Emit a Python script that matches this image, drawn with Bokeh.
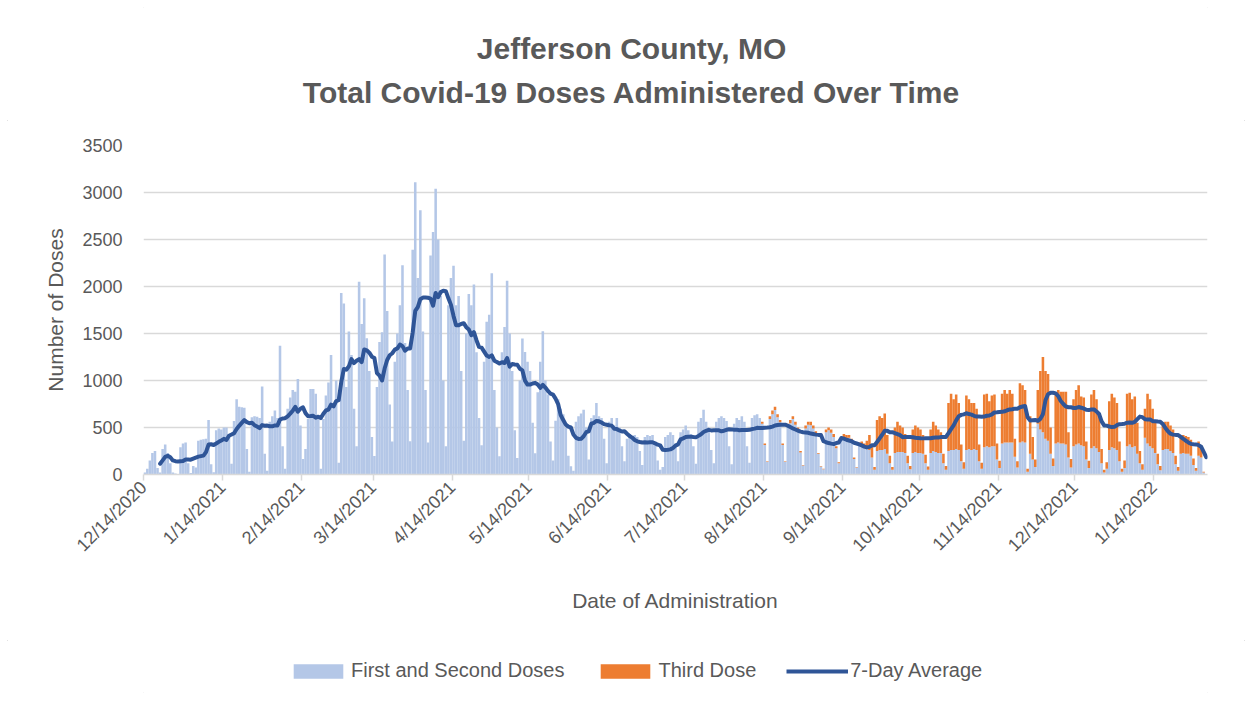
import numpy as np
import pandas as pd
from bokeh.plotting import figure
from bokeh.layouts import column
from bokeh.models import (Range1d, FixedTicker, Legend, LegendItem, Label,
                          ColumnDataSource)
from bokeh.embed import file_html
from bokeh.resources import INLINE

# Daily doses from Mon 12/14/2020, one row per week (Mon..Sun)
first_second_doses = [
    20, 60, 150, 230, 250, 70, 20,
    270, 320, 230, 120, 20, 10, 0,
    290, 330, 340, 120, 15, 90, 75,
    360, 370, 375, 380, 580, 110, 25,
    470, 490, 480, 500, 500, 420, 115,
    570, 800, 720, 715, 710, 270, 30,
    610, 620, 615, 600, 935, 220, 40,
    560, 620, 680, 600, 1370, 300, 60,
    700, 820, 900, 880, 1016, 520, 164,
    270, 590, 910, 910, 860, 600, 60,
    590, 840, 980, 1270, 730, 1000, 125,
    1930, 1820, 930, 1520, 1270, 700, 300,
    2050, 1600, 1875, 1450, 1100, 400, 196,
    930, 1410, 1514, 2340, 1740, 746, 350,
    1200, 1500, 1800, 2225, 1400, 900, 355,
    2390, 3110, 2090, 2810, 1520, 900, 340,
    2330, 2580, 3040, 2500, 1900, 1000, 300,
    1800, 2090, 2220, 1800, 1900, 1100, 360,
    1500, 1920, 1800, 2020, 1300, 600, 310,
    1200, 1625, 1700, 2140, 900, 500, 195,
    1300, 1570, 2060, 1500, 1100, 470, 176,
    1000, 1446, 1303, 1200, 1100, 550, 226,
    875, 1200, 1525, 1000, 850, 350, 150,
    571, 800, 700, 640, 500, 200, 89,
    40, 560, 620, 650, 690, 500, 160,
    600, 630, 760, 620, 600, 380, 120,
    560, 600, 520, 600, 500, 300, 140,
    380, 430, 400, 420, 400, 250, 100,
    400, 420, 410, 420, 320, 150, 50,
    80, 400, 420, 450, 420, 330, 140,
    450, 480, 520, 470, 430, 300, 115,
    560, 600, 690, 560, 500, 260, 120,
    560, 600, 620, 600, 570, 300, 110,
    540, 600, 580, 620, 560, 300, 125,
    600, 630, 640, 600, 540, 315, 135,
    590, 640, 685, 610, 555, 315, 135,
    510, 545, 590, 530, 475, 235, 95,
    490, 530, 525, 490, 435, 220, 85,
    55, 450, 470, 445, 400, 280, 120,
    370, 400, 385, 390, 350, 165, 75,
    310, 315, 290, 300, 260, 180, 50,
    250, 260, 260, 270, 220, 120, 50,
    230, 240, 240, 240, 230, 120, 55,
    230, 240, 230, 230, 220, 120, 50,
    230, 250, 240, 230, 230, 120, 50,
    250, 260, 260, 270, 260, 140, 60,
    260, 270, 260, 270, 260, 140, 60,
    290, 300, 290, 300, 300, 160, 70,
    330, 340, 340, 340, 340, 190, 75,
    340, 350, 340, 30, 220, 160, 80,
    540, 480, 450, 380, 360, 220, 90,
    330, 340, 330, 330, 320, 180, 75,
    300, 320, 330, 310, 300, 160, 70,
    280, 300, 280, 240, 120, 20, 60,
    260, 290, 280, 260, 140, 30, 70,
    300, 320, 290, 300, 220, 120, 50,
    390, 330, 300, 280, 230, 110, 45,
    260, 270, 270, 250, 230, 110, 40,
    220, 230, 220, 220, 200, 100, 40,
    200, 180, 20, 0,
]

# No third doses before mid-August 2021 (first 34 weeks)
third_dose = [0] * 238 + [
    0, 0, 0, 0, 20, 15, 5,
    30, 40, 35, 30, 25, 15, 5,
    30, 35, 30, 30, 25, 15, 5,
    30, 30, 35, 30, 25, 10, 5,
    5, 30, 30, 35, 30, 20, 10,
    30, 30, 35, 30, 30, 15, 5,
    30, 35, 40, 60, 160, 120, 30,
    330, 360, 340, 380, 200, 80, 30,
    270, 320, 280, 260, 200, 80, 35,
    250, 280, 270, 250, 200, 90, 35,
    250, 310, 280, 250, 220, 100, 40,
    510, 600, 540, 580, 500, 180, 70,
    580, 530, 500, 490, 440, 180, 65,
    560, 560, 490, 540, 550, 170, 75,
    530, 560, 520, 560, 520, 190, 65,
    630, 600, 560, 30, 400, 240, 80,
    360, 620, 800, 720, 710, 280, 80,
    520, 560, 550, 550, 560, 270, 90,
    500, 580, 620, 520, 520, 190, 75,
    570, 600, 520, 400, 150, 30, 70,
    520, 570, 540, 500, 210, 30, 80,
    560, 550, 510, 530, 330, 130, 60,
    310, 530, 500, 420, 320, 110, 45,
    280, 290, 290, 270, 250, 90, 40,
    180, 190, 190, 180, 170, 70, 30,
    150, 120, 10, 0,
]

tick_days = [0, 31, 62, 90, 121, 151, 182, 212, 243, 274, 304, 335, 365, 396]
tick_labels = ["12/14/2020", "1/14/2021", "2/14/2021", "3/14/2021", "4/14/2021",
               "5/14/2021", "6/14/2021", "7/14/2021", "8/14/2021", "9/14/2021",
               "10/14/2021", "11/14/2021", "12/14/2021", "1/14/2022"]
y_ticks = [0, 500, 1000, 1500, 2000, 2500, 3000, 3500]
title_lines = ["Jefferson County, MO", "Total Covid-19 Doses Administered Over Time"]
series_names = ["First and Second Doses", "Third Dose", "7-Day Average"]

n = min(len(first_second_doses), len(third_dose))
fs = np.array(first_second_doses[:n], dtype=float)
td = np.array(third_dose[:n], dtype=float)
days = np.arange(n) + 0.5
avg7 = pd.Series(fs + td).rolling(7).mean().to_numpy()

bar_src = ColumnDataSource(dict(x=days, fs=fs, top=fs + td))
line_src = ColumnDataSource(dict(x=days[6:], y=avg7[6:]))

FONT = "Liberation Sans"
GREY = "#595959"
GRID = "#D9D9D9"
BLUE_BAR = "#B4C7E7"
ORANGE = "#ED7D31"
LINE = "#2F5597"
W = 1252
FRAME_L, FRAME_R = 143, 1207   # page x of the plotting area (frames are aligned)


def blank_fig(height):
    f = figure(width=W, height=height, output_backend="svg", toolbar_location=None,
               x_range=Range1d(FRAME_L, FRAME_R), y_range=Range1d(0, height),
               x_axis_type=None, y_axis_type=None, min_border=0)
    f.grid.visible = False
    f.outline_line_color = None
    f.background_fill_color = "white"
    f.border_fill_color = "white"
    return f


# ---- title block (page y 0..120)
head = blank_fig(120)
for txt, y in zip(title_lines, [72, 28]):
    head.add_layout(Label(x=631, y=y, text=txt, text_align="center",
                          text_baseline="alphabetic", text_font=FONT,
                          text_font_size="30px", text_font_style="bold",
                          text_color=GREY))

# ---- main chart (page y 120..640)
fig = figure(width=W, height=520, output_backend="svg", toolbar_location=None,
             x_range=Range1d(0, 417), y_range=Range1d(0, 3500),
             min_border_left=FRAME_L, min_border_right=W - FRAME_R,
             min_border_top=25, min_border_bottom=166)
fig.outline_line_color = None
fig.background_fill_color = "white"
fig.border_fill_color = "white"

fig.vbar(x="x", top="fs", width=1.0, source=bar_src,
         fill_color=BLUE_BAR, line_color=None)
fig.vbar(x="x", bottom="fs", top="top", width=1.0, source=bar_src,
         fill_color=ORANGE, line_color=None)
fig.line(x="x", y="y", source=line_src, line_color=LINE,
         line_width=4, line_join="round", line_cap="round")

xax = fig.xaxis[0]
yax = fig.yaxis[0]
xax.ticker = FixedTicker(ticks=tick_days)
xax.major_label_overrides = {d: lab for d, lab in zip(tick_days, tick_labels)}
xax.major_label_orientation = np.pi / 4
xax.major_tick_out = 6
xax.major_tick_in = 0
xax.major_tick_line_color = GRID
xax.major_tick_line_width = 1.5
xax.minor_tick_line_color = None
xax.axis_line_color = GRID
xax.axis_line_width = 1.5
xax.major_label_standoff = 4
xax.axis_label = "Date of Administration"
xax.axis_label_standoff = 24

yax.ticker = FixedTicker(ticks=y_ticks)
yax.axis_line_color = None
yax.major_tick_line_color = None
yax.minor_tick_line_color = None
yax.major_tick_out = 0
yax.major_tick_in = 0
yax.major_label_standoff = 21
yax.axis_label = "Number of Doses"
yax.axis_label_standoff = 12

for ax in (xax, yax):
    ax.major_label_text_font = FONT
    ax.major_label_text_font_size = "18px"
    ax.major_label_text_color = GREY
    ax.axis_label_text_font = FONT
    ax.axis_label_text_font_size = "21px"
    ax.axis_label_text_font_style = "normal"
    ax.axis_label_text_color = GREY

fig.xgrid.grid_line_color = None
fig.ygrid.ticker = FixedTicker(ticks=y_ticks)
fig.ygrid.grid_line_color = GRID
fig.ygrid.grid_line_width = 1.5

# ---- legend block (page y 640..700); key glyphs sit outside the visible range
leg = blank_fig(60)
k_fs = leg.vbar(x=[0], top=[0], width=1, fill_color=BLUE_BAR, line_color=None)
k_td = leg.vbar(x=[0], top=[0], width=1, fill_color=ORANGE, line_color=None)
k_avg = leg.line(x=[0, 1], y=[0, 0], line_color=LINE, line_width=4)
legend = Legend(items=[LegendItem(label=series_names[0], renderers=[k_fs]),
                       LegendItem(label=series_names[1], renderers=[k_td]),
                       LegendItem(label=series_names[2], renderers=[k_avg])],
                orientation="horizontal", location=(287 - FRAME_L, 18),
                label_text_font=FONT, label_text_font_size="20px",
                label_text_color=GREY, glyph_width=62, glyph_height=18,
                label_standoff=2, spacing=30, padding=0, margin=0,
                border_line_color=None, background_fill_alpha=0)
leg.add_layout(legend, "center")

p = column(head, fig, leg, spacing=0,
           styles={"outline": "1px solid #D9D9D9", "outline-offset": "-8px"})

open("out.html", "w").write(file_html(p, INLINE))
